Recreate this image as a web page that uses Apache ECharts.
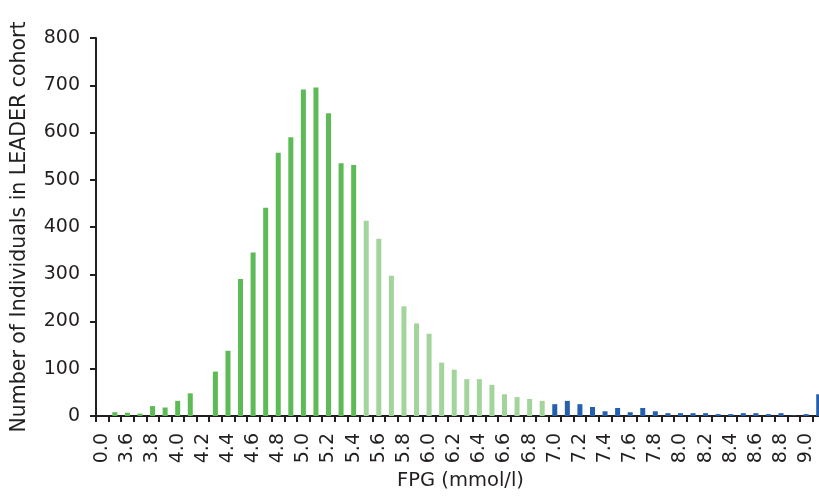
<!DOCTYPE html>
<html>
<head>
<meta charset="utf-8">
<script src="https://cdn.jsdelivr.net/npm/echarts@6/dist/echarts.min.js"></script>
<style>
html,body{margin:0;padding:0;background:#fff;}
#chart{width:819px;height:496px;}
</style>
</head>
<body>
<div id="chart"></div>
<script>
var categories = ["0.0","3.5","3.6","3.7","3.8","3.9","4.0","4.1","4.2","4.3",
  "4.4","4.5","4.6","4.7","4.8","4.9","5.0","5.1","5.2","5.3",
  "5.4","5.5","5.6","5.7","5.8","5.9","6.0","6.1","6.2","6.3",
  "6.4","6.5","6.6","6.7","6.8","6.9","7.0","7.1","7.2","7.3",
  "7.4","7.5","7.6","7.7","7.8","7.9","8.0","8.1","8.2","8.3",
  "8.4","8.5","8.6","8.7","8.8","8.9","9.0","9.1"];
var counts = [0,8,7,5,21,18,32,48,0,94,
  138,290,346,441,557,590,691,695,641,535,
  531,413,375,297,232,196,174,113,98,78,
  78,66,46,40,36,32,25,32,25,19,
  10,17,8,17,10,6,6,6,6,4,
  4,6,6,4,6,1,4,46];
var yTicks = [0,100,200,300,400,500,600,700,800];
var lightStart = 5.5;   // FPG from which bars are light green
var blueStart = 7.0;    // FPG from which bars are blue

var DARK = '#5dbb55', LIGHT = '#a2d49c', BLUE = '#2460ad';
var data = counts.map(function(v, i){
  var f = parseFloat(categories[i]);
  var c = f >= blueStart - 1e-9 ? BLUE : (f >= lightStart - 1e-9 ? LIGHT : DARK);
  return {value: v, itemStyle: {color: c}};
});

var chart = echarts.init(document.getElementById('chart'), null, {renderer:'canvas'});
var FONT = 'DejaVu Sans';
var INK = '#231f20';
chart.setOption({
  animation: false,
  grid: {left: 96, top: 38, width: 729, height: 378, containLabel: false, outerBoundsMode: 'none'},
  xAxis: {
    type: 'category',
    data: categories,
    boundaryGap: true,
    name: 'FPG (mmol/l)',
    nameLocation: 'middle',
    nameGap: 50,
    nameTextStyle: {fontFamily: FONT, fontSize: 19.5, color: INK},
    axisLine: {lineStyle: {color: INK, width: 2}},
    axisTick: {show: true, interval: 0, length: 6, lineStyle: {color: INK, width: 2}},
    axisLabel: {interval: 1, rotate: 90, margin: 17, fontFamily: FONT, fontSize: 19, color: INK},
    splitLine: {show: false}
  },
  yAxis: {
    type: 'value',
    min: yTicks[0],
    max: yTicks[yTicks.length-1],
    interval: yTicks[1]-yTicks[0],
    name: 'Number of Individuals in LEADER cohort',
    nameLocation: 'middle',
    nameGap: 66,
    nameTextStyle: {fontFamily: FONT, fontSize: 20.5, color: INK},
    axisLine: {show: true, lineStyle: {color: INK, width: 2}},
    axisTick: {show: true, length: 6, lineStyle: {color: INK, width: 2}},
    axisLabel: {margin: 16, fontFamily: FONT, fontSize: 19, color: INK},
    splitLine: {show: false}
  },
  series: [{
    type: 'bar',
    data: data,
    barWidth: 5
  }]
});
</script>
</body>
</html>
